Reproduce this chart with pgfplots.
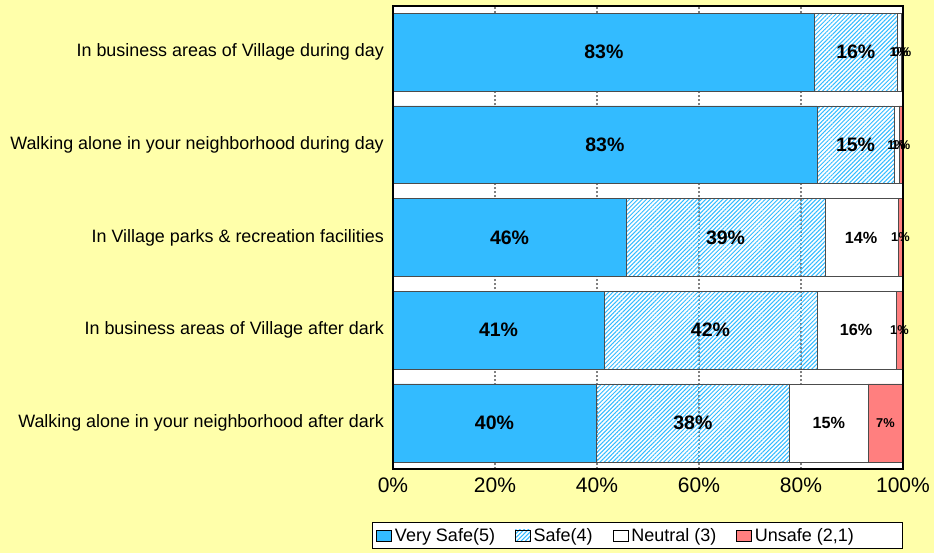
\documentclass[border=0pt]{standalone}
\usepackage{fontspec}
\setmainfont{Liberation Sans}
\usepackage{pgfplots}
\usepackage{pgfplotstable}
\pgfplotsset{compat=1.18}
\usetikzlibrary{patterns.meta}
\definecolor{vsblue}{HTML}{33BBFF}
\definecolor{unsafe}{HTML}{FF7F7F}
\definecolor{bgyellow}{HTML}{FFFFAA}

\pgfplotstableread{
y vs s n u
0 39.8 38.0 15.3 6.9
1 41.4 41.7 15.5 1.4
2 45.7 39.0 14.3 1.0
3 83.1 15.2 0.9 0.8
4 82.7 16.1 0.8 0.4
}\data

\pgfplotstableread{
x y v
19.9 0 40
58.8 0 38
20.7 1 41
62.25 1 42
22.85 2 46
65.2 2 39
41.55 3 83
90.7 3 15
41.35 4 83
90.75 4 16
}\biglab

\pgfplotstableread{
x y v
85.45 0 15
90.8 1 16
91.8 2 14
}\midlab

\pgfplotstableread{
x y v
96.55 0 7
99.3 1 1
99.5 2 1
98.75 3 1
99.6 3 1
99.2 4 1
99.8 4 0
}\smalllab

\pgfplotsset{base/.style={
  at={(0pt,0pt)}, anchor=south west,
  scale only axis,
  width=510pt, height=463.6pt,
  xmin=0, xmax=100, ymin=-0.5, ymax=4.5,
}}

\begin{document}
\begin{tikzpicture}
\fill[bgyellow] (-393pt,-83.7pt) rectangle (541pt,469.3pt);
% grid layer
\begin{axis}[
  base,
  xtick={20,40,60,80}, xticklabels={}, ytick=\empty,
  xmajorgrids,
  major grid style={draw=black!50, dash pattern=on 2pt off 2pt, line width=1.2pt},
  axis line style={draw=none},
  tick style={draw=none},
  axis background/.style={fill=white},
]
\end{axis}
% bars
\begin{axis}[
  base,
  xbar stacked,
  bar width=0.84,
  ytick={0,1,2,3,4},
  yticklabels={Walking alone in your neighborhood after dark,
               In business areas of Village after dark,
               In Village parks \& recreation facilities,
               Walking alone in your neighborhood during day,
               In business areas of Village during day},
  yticklabel style={font=\fontsize{17.9}{20}\selectfont, inner sep=0pt, xshift=-9pt},
  xtick={0,20,40,60,80,100},
  xticklabel={\pgfmathprintnumber{\tick}\%},
  /pgf/number format/assume math mode=true,
  xticklabel style={font=\fontsize{21}{23}\selectfont, yshift=-5pt},
  axis line style={draw=none},
  tick style={draw=none},
  legend columns=4,
  legend style={at={(-0.041,-0.1143)}, anchor=north west, draw=black, line width=0.6pt,
    fill=white, font=\fontsize{18}{20}\selectfont, inner xsep=4pt, inner ysep=3.5pt,
    /tikz/every odd column/.append style={column sep=1pt},
    /tikz/every even column/.append style={column sep=18pt}},
  legend image code/.code={\draw[#1, draw=black, line width=0.6pt] (0pt,-5.5pt) rectangle (15pt,5.5pt);},
]
\addplot[fill=vsblue, draw=black!70, line width=0.6pt] table[x=vs, y=y] {\data};
\addlegendentry{Very Safe(5)}
\addplot[pattern={Lines[angle=45,distance=3pt,line width=1pt]}, pattern color=vsblue, draw=black!70, line width=0.6pt] table[x=s, y=y] {\data};
\addlegendentry{Safe(4)}
\addplot[fill=white, draw=black!70, line width=0.6pt] table[x=n, y=y] {\data};
\addlegendentry{Neutral (3)}
\addplot[fill=unsafe, draw=black!70, line width=0.6pt] table[x=u, y=y] {\data};
\addlegendentry{\makebox[141pt][l]{Unsafe (2,1)}}
\end{axis}
% frame and labels
\begin{axis}[
  base,
  xtick=\empty, ytick=\empty,
  axis line style={line width=2pt, black},
  clip=false,
  nodes near coords={\pgfplotspointmeta\%},
  point meta=explicit symbolic,
  nodes near coords align=center,
]
\addplot[only marks, mark=none, every node near coord/.append style={anchor=center, font=\bfseries\fontsize{19.5}{20}\selectfont}] table[x=x, y=y, meta=v] {\biglab};
\addplot[only marks, mark=none, every node near coord/.append style={anchor=center, font=\bfseries\fontsize{16.2}{18}\selectfont}] table[x=x, y=y, meta=v] {\midlab};
\addplot[only marks, mark=none, every node near coord/.append style={anchor=center, font=\bfseries\fontsize{12.8}{14}\selectfont}] table[x=x, y=y, meta=v] {\smalllab};
\end{axis}

\pgfresetboundingbox
\path[use as bounding box] (-393pt,-83.7pt) rectangle (541pt,469.3pt);
\end{tikzpicture}
\end{document}
